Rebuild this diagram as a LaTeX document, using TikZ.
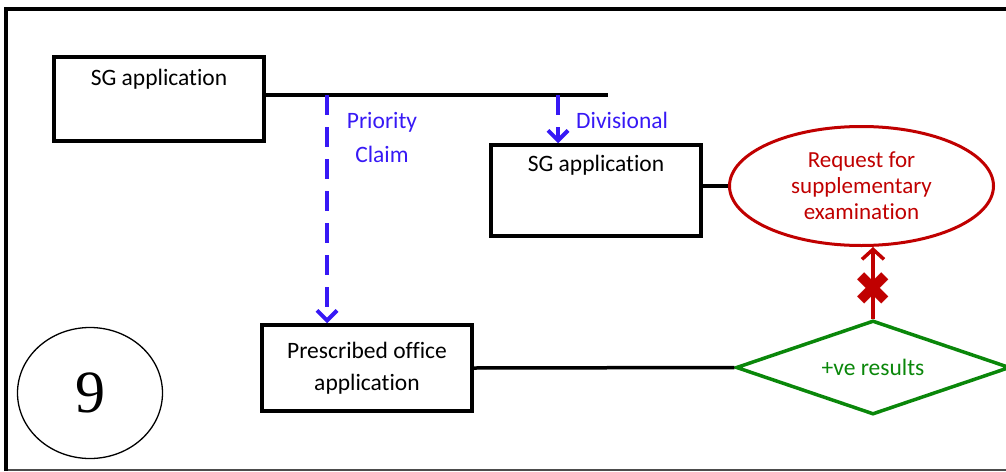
\documentclass[tikz,border=0pt]{standalone}
\usepackage{fontspec}
\newfontfamily\carlito[Ligatures=NoCommon]{Carlito}
\newfontfamily\dejavu{DejaVu Sans}
\newfontfamily\timesf{Liberation Serif}
\usetikzlibrary{shapes.geometric,arrows.meta}
\definecolor{myblue}{RGB}{55,25,245}
\definecolor{myred}{RGB}{192,0,0}
\definecolor{mygreen}{RGB}{10,135,10}
\tikzset{
  txt/.style={font=\carlito\fontsize{23.5}{32}\selectfont},
  box/.style={draw, line width=3.5pt, minimum width=210pt, inner sep=0pt},
  conn/.style={line width=3.5pt},
  bluedash/.style={myblue, line width=4pt, dash pattern=on 20pt off 12pt,
    -{Straight Barb[length=10pt,width=20pt]}},
  bluetxt/.style={txt, text=myblue, inner sep=0pt},
}
\begin{document}
\begin{tikzpicture}[x=1pt,y=-1pt]
\useasboundingbox (0,0) rectangle (1006,471);
% frame
\draw[black!70, line width=2pt] (6,470) -- (1006,470);
\draw[line width=4pt] (6,471) -- (6,9) -- (1006,9);
% boxes
\node[box, minimum height=84pt,
  label={[txt, anchor=base, yshift=-30pt]north:SG application}] (sg1) at (159,99) {};
\node[box, minimum height=91pt,
  label={[txt, anchor=base, yshift=-28pt]north:SG application}] (sg2) at (596,190.5) {};
\node[box, minimum height=86pt, txt, align=center] (pre) at (367,368) {Prescribed office\\application};
% ellipse and diamond
\node[ellipse, draw=myred, line width=3pt, minimum width=264pt, minimum height=119pt,
  inner sep=0pt, txt, text=myred, align=center,
  font=\carlito\fontsize{23}{26}\selectfont] (req) at (861.5,186)
  {Request for\\supplementary\\examination};
\node[diamond, draw=mygreen, line width=3.5pt, minimum width=274pt, minimum height=94pt,
  aspect=2.9, inner sep=0pt, txt, text=mygreen] (res) at (873,367.5) {+ve results};
% circle
\node[ellipse, draw, line width=1.3pt, minimum width=145pt, minimum height=131pt,
  inner sep=0pt, font=\timesf\fontsize{60}{60}\selectfont] (nine) at (90,393) {9};
% connectors
\coordinate (hend) at (608,95);
\coordinate (pc) at (327,95);
\coordinate (dv) at (558,95);
\draw[conn] (sg1.east |- hend) -- (hend);
\draw[bluedash] (pc) -- (pc |- pre.north);
\draw[bluedash] (dv) -- (dv |- sg2.north);
\node[bluetxt, align=center, anchor=north,
  font=\carlito\fontsize{23.5}{34}\selectfont] (prio) at (382,112) {Priority\\Claim};
\node[bluetxt, anchor=base west] (divl) at (576,128) {Divisional};
\draw[conn] (sg2.east |- req.west) -- (req.west);
\draw[conn] (pre.east) -- (res.west);
\draw[myred, line width=3.5pt, -{Straight Barb[length=10pt,width=22pt]}]
  (res.north) -- (res.north |- req.south)
  node[pos=0.42, text=myred, font=\dejavu\fontsize{47}{47}\selectfont, inner sep=0pt] (xm) {✖};
\end{tikzpicture}
\end{document}
